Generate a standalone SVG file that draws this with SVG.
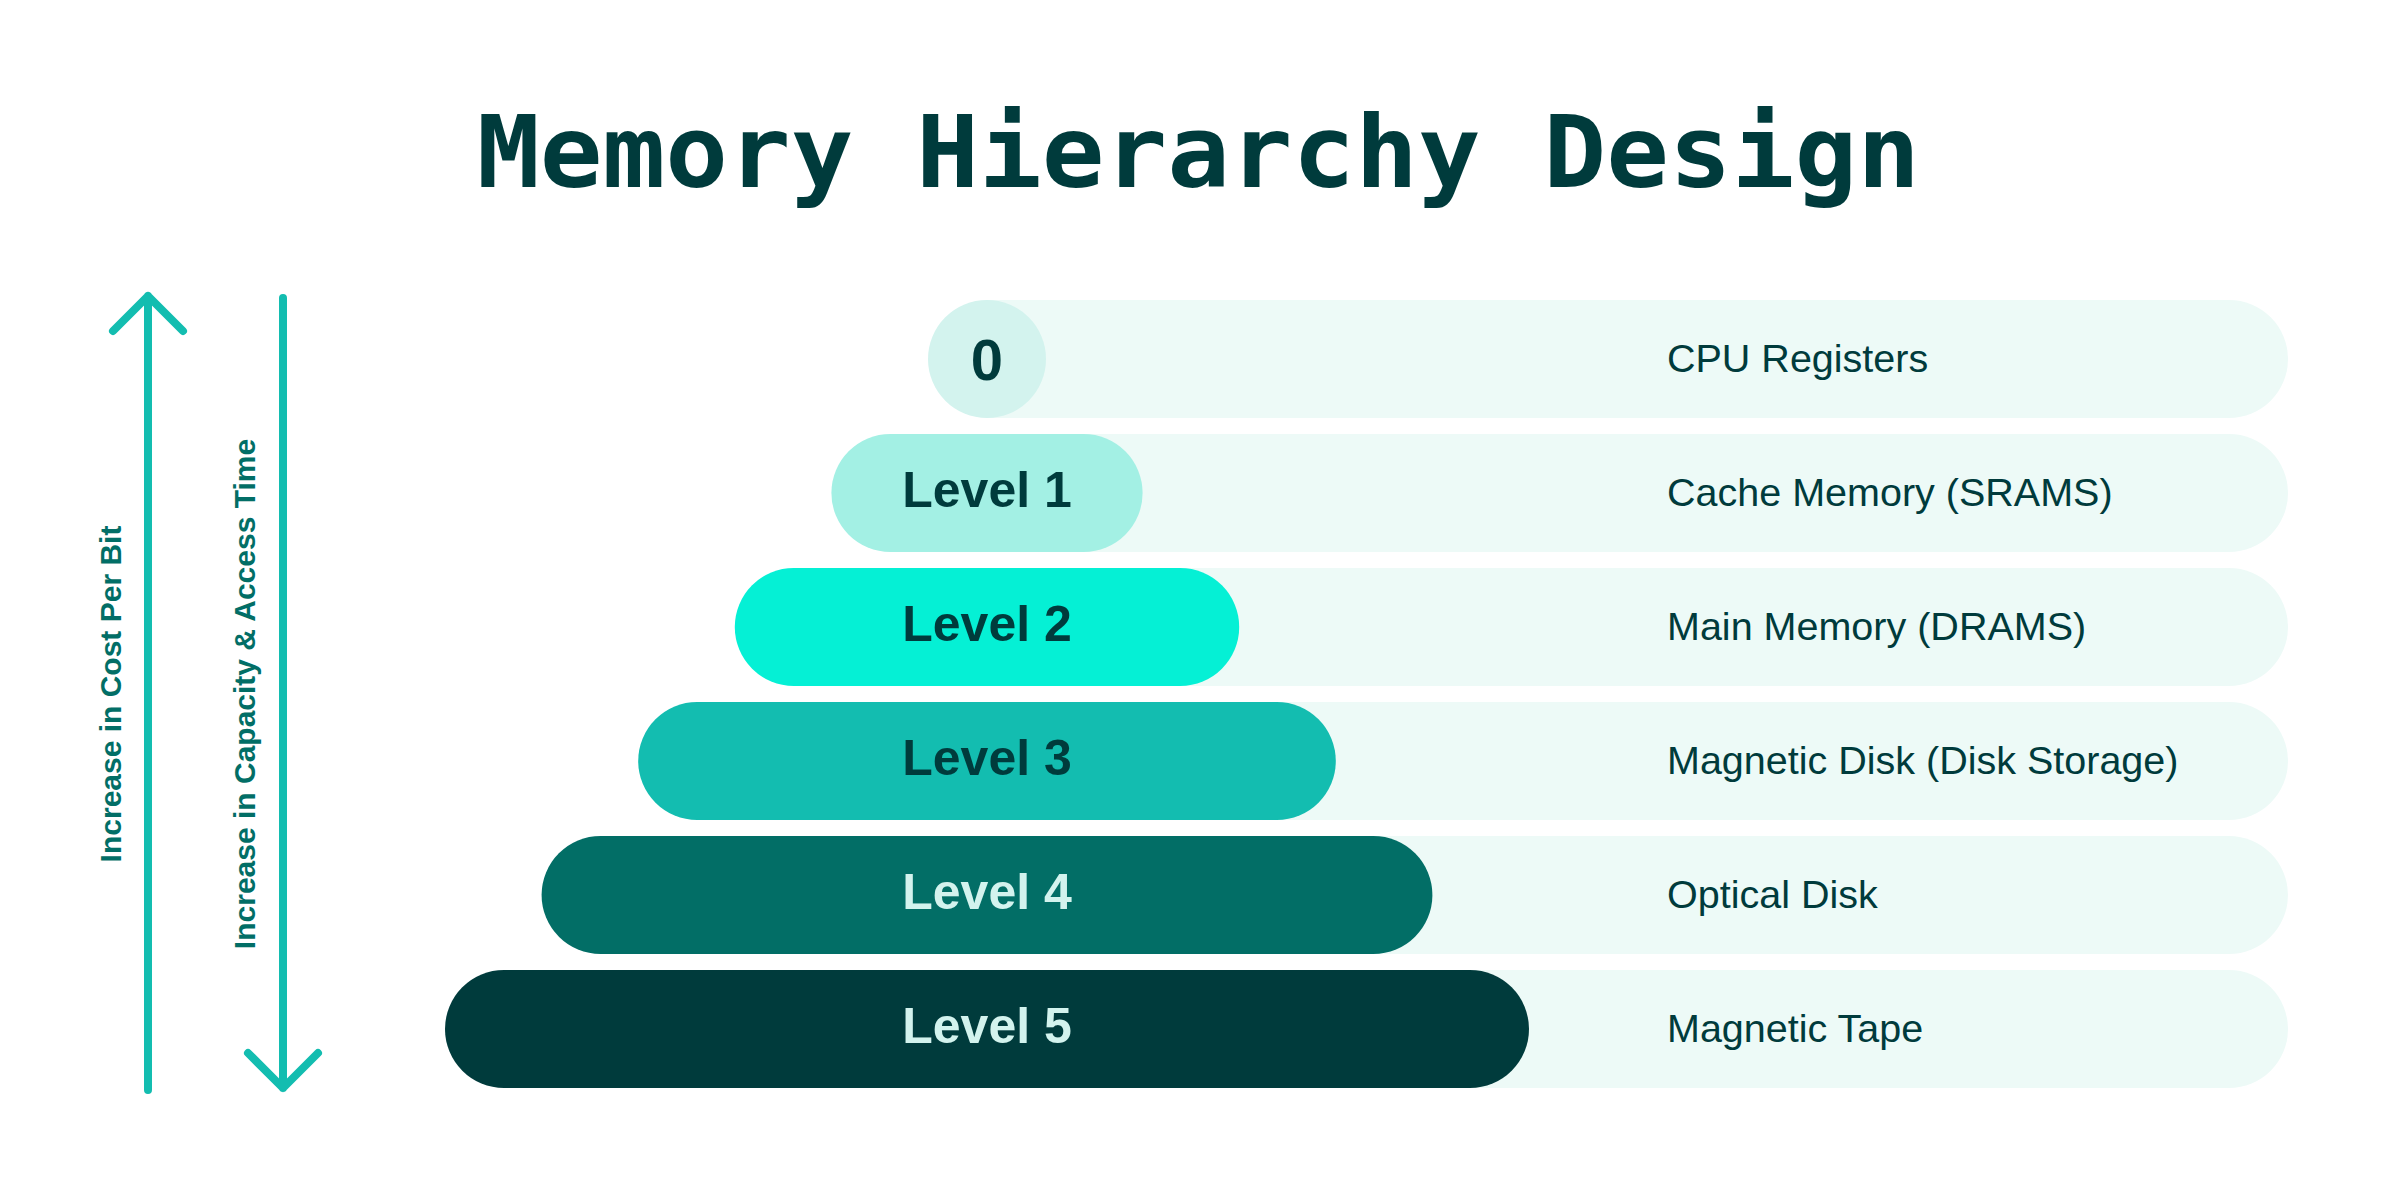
<svg xmlns="http://www.w3.org/2000/svg" width="2400" height="1200" viewBox="0 0 2400 1200">
<style>
.title{font-family:"DejaVu Sans Mono","Liberation Mono",monospace;font-weight:bold;font-size:100px;fill:#003B3C}
.bg{fill:#EDFAF7}
.lvl{font-family:"Liberation Sans",Arial,sans-serif;font-weight:bold;font-size:50px;text-anchor:middle}
.dark{fill:#003B3C}
.light{fill:#D3F3EE}
.desc{font-family:"Liberation Sans",Arial,sans-serif;font-size:39.5px;fill:#003B3C}
.side{font-family:"Liberation Sans",Arial,sans-serif;font-weight:bold;font-size:30px;fill:#026E66;text-anchor:middle}
.arr{fill:none;stroke:#13BDB0;stroke-width:8;stroke-linecap:round;stroke-linejoin:round}
</style>
<rect width="2400" height="1200" fill="#FFFFFF"/>
<text class="title" x="477" y="187" textLength="1443" lengthAdjust="spacingAndGlyphs">Memory Hierarchy Design</text>

<g id="connectors">
  <path class="arr" d="M148,1090 V296 M113,331 L148,296 L183,331"/>
  <path class="arr" d="M283,298 V1088 M248,1053 L283,1088 L318,1053"/>
  <text class="side" transform="translate(121,694) rotate(-90)">Increase in Cost Per Bit</text>
  <text class="side" transform="translate(255,694) rotate(-90)">Increase in Capacity &amp; Access Time</text>
</g>

<g id="level0">
  <path class="bg" d="M987,300 H2229 A59,59 0 0 1 2229,418 H987 Z"/>
  <circle cx="987" cy="359" r="59" fill="#D3F3EE"/>
  <text class="lvl dark" x="987" y="380" style="font-size:58px">0</text>
  <text class="desc" x="1667" y="372">CPU Registers</text>
</g>
<g id="level1">
  <path class="bg" d="M987,434 H2229 A59,59 0 0 1 2229,552 H987 Z"/>
  <rect x="831.4" y="434" width="311.2" height="118" rx="59" fill="#A3F0E4"/>
  <text class="lvl dark" x="987" y="507">Level 1</text>
  <text class="desc" x="1667" y="506">Cache Memory (SRAMS)</text>
</g>
<g id="level2">
  <path class="bg" d="M987,568 H2229 A59,59 0 0 1 2229,686 H987 Z"/>
  <rect x="734.8" y="568" width="504.4" height="118" rx="59" fill="#05F0D5"/>
  <text class="lvl dark" x="987" y="641">Level 2</text>
  <text class="desc" x="1667" y="640">Main Memory (DRAMS)</text>
</g>
<g id="level3">
  <path class="bg" d="M987,702 H2229 A59,59 0 0 1 2229,820 H987 Z"/>
  <rect x="638.2" y="702" width="697.6" height="118" rx="59" fill="#13BDB0"/>
  <text class="lvl dark" x="987" y="775">Level 3</text>
  <text class="desc" x="1667" y="774">Magnetic Disk (Disk Storage)</text>
</g>
<g id="level4">
  <path class="bg" d="M987,836 H2229 A59,59 0 0 1 2229,954 H987 Z"/>
  <rect x="541.6" y="836" width="890.8" height="118" rx="59" fill="#026E66"/>
  <text class="lvl light" x="987" y="909">Level 4</text>
  <text class="desc" x="1667" y="908">Optical Disk</text>
</g>
<g id="level5">
  <path class="bg" d="M987,970 H2229 A59,59 0 0 1 2229,1088 H987 Z"/>
  <rect x="445" y="970" width="1084" height="118" rx="59" fill="#003B3C"/>
  <text class="lvl light" x="987" y="1043">Level 5</text>
  <text class="desc" x="1667" y="1042">Magnetic Tape</text>
</g>
</svg>
